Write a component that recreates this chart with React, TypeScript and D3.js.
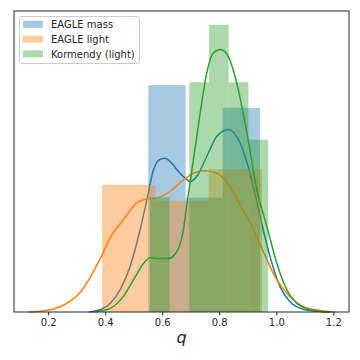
import React, { useEffect, useRef } from 'react';
import * as d3 from 'd3';

// histogram bins (bin edges in q, counts per bin)
const massEdges = [0.551, 0.682, 0.812, 0.943];
const massCounts = [10, 5, 9];
const lightEdges = [0.389, 0.576, 0.763, 0.950];
const lightCounts = [8, 7, 9];
const kormEdges = [0.557, 0.626, 0.695, 0.764, 0.833, 0.902, 0.971];
const kormCounts = [2, 0, 4, 5, 4, 3];

// KDE curves: [q, density]
const massKde: [number, number][] = [
  [0.343, 0], [0.386, 0.038], [0.417, 0.12], [0.452, 0.31], [0.487, 0.635],
  [0.522, 1.15], [0.546, 1.57], [0.569, 1.99], [0.592, 2.14], [0.61, 2.156],
  [0.633, 2.085], [0.662, 1.945], [0.686, 1.86], [0.698, 1.83], [0.721, 1.9],
  [0.756, 2.18], [0.791, 2.46], [0.832, 2.56], [0.873, 2.37], [0.908, 1.945],
  [0.943, 1.34], [0.978, 0.776], [1.013, 0.355], [1.048, 0.145], [1.095, 0.038],
  [1.142, 0.01], [1.177, 0],
];
const lightKde: [number, number][] = [
  [0.133, 0], [0.197, 0.024], [0.255, 0.098], [0.314, 0.285], [0.386, 0.776],
  [0.417, 1.04], [0.463, 1.29], [0.511, 1.53], [0.546, 1.585], [0.581, 1.6],
  [0.627, 1.69], [0.662, 1.81], [0.709, 1.945], [0.75, 1.98], [0.791, 1.945],
  [0.838, 1.76], [0.885, 1.41], [0.908, 1.25], [0.943, 0.95], [1.002, 0.45],
  [1.048, 0.215], [1.095, 0.074], [1.142, 0.028], [1.206, 0],
];
const kormKde: [number, number][] = [
  [0.361, 0], [0.417, 0.05], [0.463, 0.215], [0.499, 0.45], [0.534, 0.68],
  [0.557, 0.76], [0.592, 0.75], [0.621, 0.75], [0.651, 0.845], [0.674, 1.15],
  [0.686, 1.5], [0.698, 1.82], [0.709, 2.13], [0.733, 2.79], [0.756, 3.35],
  [0.779, 3.63], [0.805, 3.68], [0.832, 3.58], [0.861, 3.21], [0.897, 2.51],
  [0.932, 1.71], [0.967, 1.2], [1.002, 0.68], [1.037, 0.31], [1.072, 0.12],
  [1.107, 0.046], [1.154, 0.01], [1.189, 0],
];

const xTicks = [0.2, 0.4, 0.6, 0.8, 1.0, 1.2];

const series = [
  { name: 'EAGLE mass', color: '#1f77b4', edges: massEdges, counts: massCounts, kde: massKde },
  { name: 'EAGLE light', color: '#ff7f0e', edges: lightEdges, counts: lightCounts, kde: lightKde },
  { name: 'Kormendy (light)', color: '#2ca02c', edges: kormEdges, counts: kormCounts, kde: kormKde },
];

const App = () => {
  const ref = useRef<SVGSVGElement>(null);

  useEffect(() => {
    const svg = d3.select(ref.current);
    svg.selectAll('*').remove();

    const margin = { top: 11, right: 11, bottom: 48, left: 14 };
    const width = 360;
    const height = 360;

    const x = d3.scaleLinear().domain([0.08, 1.255]).range([margin.left, width - margin.right]);
    const y = d3.scaleLinear().domain([0, 4.22]).range([height - margin.bottom, margin.top]);

    const font = 'DejaVu Sans, sans-serif';

    series.forEach(s => {
      const total = d3.sum(s.counts);
      const bins = s.counts.map((c, i) => ({
        x0: s.edges[i],
        x1: s.edges[i + 1],
        density: c / (total * (s.edges[i + 1] - s.edges[i])),
      }));

      svg.append('g')
        .selectAll('rect')
        .data(bins)
        .enter().append('rect')
        .attr('x', d => x(d.x0))
        .attr('y', d => y(d.density))
        .attr('width', d => x(d.x1) - x(d.x0))
        .attr('height', d => y(0) - y(d.density))
        .attr('fill', s.color)
        .attr('fill-opacity', 0.4);

      const line = d3.line<[number, number]>()
        .x(d => x(d[0]))
        .y(d => y(d[1]))
        .curve(d3.curveMonotoneX);

      svg.append('path')
        .datum(s.kde)
        .attr('d', line)
        .attr('fill', 'none')
        .attr('stroke', s.color)
        .attr('stroke-width', 1.5);
    });

    // frame
    svg.append('rect')
      .attr('x', margin.left)
      .attr('y', margin.top)
      .attr('width', width - margin.left - margin.right)
      .attr('height', height - margin.top - margin.bottom)
      .attr('fill', 'none')
      .attr('stroke', '#262626')
      .attr('stroke-width', 1);

    // x-axis
    const xAxis = svg.append('g')
      .attr('transform', `translate(0,${height - margin.bottom})`)
      .call(d3.axisBottom(x).tickValues(xTicks).tickFormat(d3.format('.1f')).tickSizeOuter(0).tickSize(3.5).tickPadding(3.5));
    xAxis.select('.domain').remove();
    xAxis.selectAll('line').attr('stroke', '#262626');
    xAxis.selectAll('text')
      .attr('fill', '#262626')
      .style('font-family', font)
      .style('font-size', '10px');

    // x label
    svg.append('text')
      .attr('x', (margin.left + width - margin.right) / 2)
      .attr('y', 343)
      .attr('text-anchor', 'middle')
      .style('font-family', font)
      .style('font-style', 'italic')
      .style('font-size', '16px')
      .attr('fill', '#262626')
      .text('q');

    // legend
    const lg = svg.append('g');
    lg.append('rect')
      .attr('x', 19.5)
      .attr('y', 16.5)
      .attr('width', 120)
      .attr('height', 47)
      .attr('rx', 2.5)
      .attr('fill', 'white')
      .attr('fill-opacity', 0.8)
      .attr('stroke', '#cccccc')
      .attr('stroke-width', 1);

    series.forEach((s, i) => {
      const cy = 24.3 + i * 14.8;
      lg.append('rect')
        .attr('x', 23)
        .attr('y', cy - 3.5)
        .attr('width', 20)
        .attr('height', 7)
        .attr('fill', s.color)
        .attr('fill-opacity', 0.4);
      lg.append('text')
        .attr('x', 51)
        .attr('y', cy + 3.6)
        .style('font-family', font)
        .style('font-size', '10px')
        .attr('fill', '#262626')
        .text(s.name);
    });
  }, []);

  return (
    <svg
      ref={ref}
      width={360}
      height={360}
      style={{ position: 'absolute', left: 0, top: 0, background: 'white' }}
    />
  );
};

export default App;
